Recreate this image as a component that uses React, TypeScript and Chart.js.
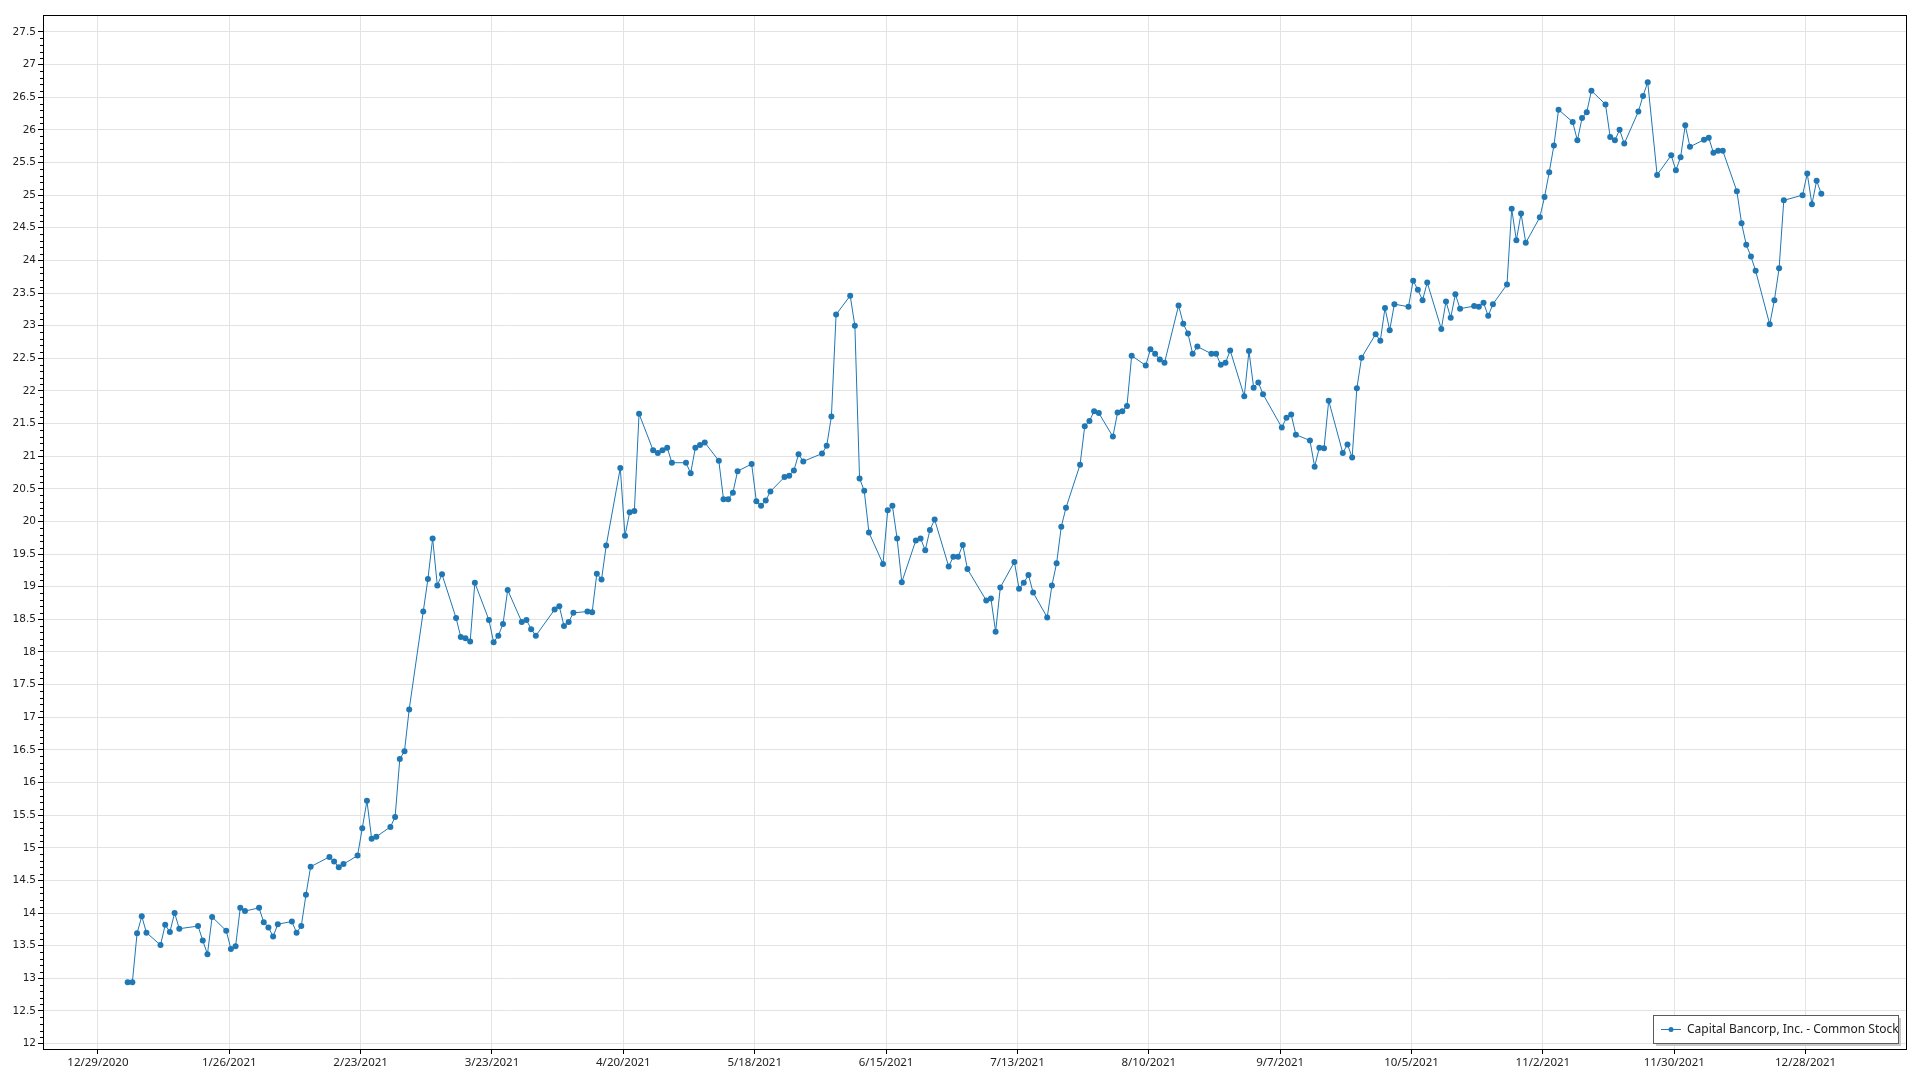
import React, { useEffect, useRef } from "react";
import { Chart, registerables } from "chart.js";

Chart.register(...registerables);

const SERIES_NAME = "Capital Bancorp, Inc. - Common Stock";

const tradeDates = [
  "2021-01-04","2021-01-05","2021-01-06","2021-01-07","2021-01-08",
  "2021-01-11","2021-01-12","2021-01-13","2021-01-14","2021-01-15",
  "2021-01-19","2021-01-20","2021-01-21","2021-01-22",
  "2021-01-25","2021-01-26","2021-01-27","2021-01-28","2021-01-29",
  "2021-02-01","2021-02-02","2021-02-03","2021-02-04","2021-02-05",
  "2021-02-08","2021-02-09","2021-02-10","2021-02-11","2021-02-12",
  "2021-02-16","2021-02-17","2021-02-18","2021-02-19",
  "2021-02-22","2021-02-23","2021-02-24","2021-02-25","2021-02-26",
  "2021-03-01","2021-03-02","2021-03-03","2021-03-04","2021-03-05",
  "2021-03-08","2021-03-09","2021-03-10","2021-03-11","2021-03-12",
  "2021-03-15","2021-03-16","2021-03-17","2021-03-18","2021-03-19",
  "2021-03-22","2021-03-23","2021-03-24","2021-03-25","2021-03-26",
  "2021-03-29","2021-03-30","2021-03-31","2021-04-01",
  "2021-04-05","2021-04-06","2021-04-07","2021-04-08","2021-04-09",
  "2021-04-12","2021-04-13","2021-04-14","2021-04-15","2021-04-16",
  "2021-04-19","2021-04-20","2021-04-21","2021-04-22","2021-04-23",
  "2021-04-26","2021-04-27","2021-04-28","2021-04-29","2021-04-30",
  "2021-05-03","2021-05-04","2021-05-05","2021-05-06","2021-05-07",
  "2021-05-10","2021-05-11","2021-05-12","2021-05-13","2021-05-14",
  "2021-05-17","2021-05-18","2021-05-19","2021-05-20","2021-05-21",
  "2021-05-24","2021-05-25","2021-05-26","2021-05-27","2021-05-28",
  "2021-06-01","2021-06-02","2021-06-03","2021-06-04",
  "2021-06-07","2021-06-08","2021-06-09","2021-06-10","2021-06-11",
  "2021-06-14","2021-06-15","2021-06-16","2021-06-17","2021-06-18",
  "2021-06-21","2021-06-22","2021-06-23","2021-06-24","2021-06-25",
  "2021-06-28","2021-06-29","2021-06-30","2021-07-01","2021-07-02",
  "2021-07-06","2021-07-07","2021-07-08","2021-07-09",
  "2021-07-12","2021-07-13","2021-07-14","2021-07-15","2021-07-16",
  "2021-07-19","2021-07-20","2021-07-21","2021-07-22","2021-07-23",
  "2021-07-26","2021-07-27","2021-07-28","2021-07-29","2021-07-30",
  "2021-08-02","2021-08-03","2021-08-04","2021-08-05","2021-08-06",
  "2021-08-09","2021-08-10","2021-08-11","2021-08-12","2021-08-13",
  "2021-08-16","2021-08-17","2021-08-18","2021-08-19","2021-08-20",
  "2021-08-23","2021-08-24","2021-08-25","2021-08-26","2021-08-27",
  "2021-08-30","2021-08-31","2021-09-01","2021-09-02","2021-09-03",
  "2021-09-07","2021-09-08","2021-09-09","2021-09-10",
  "2021-09-13","2021-09-14","2021-09-15","2021-09-16","2021-09-17",
  "2021-09-20","2021-09-21","2021-09-22","2021-09-23","2021-09-24",
  "2021-09-27","2021-09-28","2021-09-29","2021-09-30","2021-10-01",
  "2021-10-04","2021-10-05","2021-10-06","2021-10-07","2021-10-08",
  "2021-10-11","2021-10-12","2021-10-13","2021-10-14","2021-10-15",
  "2021-10-18","2021-10-19","2021-10-20","2021-10-21","2021-10-22",
  "2021-10-25","2021-10-26","2021-10-27","2021-10-28","2021-10-29",
  "2021-11-01","2021-11-02","2021-11-03","2021-11-04","2021-11-05",
  "2021-11-08","2021-11-09","2021-11-10","2021-11-11","2021-11-12",
  "2021-11-15","2021-11-16","2021-11-17","2021-11-18","2021-11-19",
  "2021-11-22","2021-11-23","2021-11-24","2021-11-26",
  "2021-11-29","2021-11-30","2021-12-01","2021-12-02","2021-12-03",
  "2021-12-06","2021-12-07","2021-12-08","2021-12-09","2021-12-10",
  "2021-12-13","2021-12-14","2021-12-15","2021-12-16","2021-12-17",
  "2021-12-20","2021-12-21","2021-12-22","2021-12-23",
  "2021-12-27","2021-12-28","2021-12-29","2021-12-30","2021-12-31",
];

const closePrices = [
  12.94, 12.94, 13.69, 13.95, 13.70,
  13.51, 13.82, 13.71, 14.00, 13.76,
  13.80, 13.58, 13.37, 13.94,
  13.73, 13.45, 13.49, 14.08, 14.03,
  14.08, 13.86, 13.78, 13.64, 13.83,
  13.87, 13.70, 13.80, 14.28, 14.71,
  14.86, 14.79, 14.70, 14.75,
  14.88, 15.30, 15.72, 15.14, 15.17,
  15.32, 15.47, 16.36, 16.48, 17.12,
  18.62, 19.12, 19.74, 19.02, 19.19,
  18.52, 18.23, 18.21, 18.16, 19.06,
  18.49, 18.15, 18.25, 18.43, 18.95,
  18.46, 18.49, 18.35, 18.25,
  18.65, 18.70, 18.40, 18.46, 18.60,
  18.62, 18.61, 19.20, 19.11, 19.63,
  20.82, 19.78, 20.14, 20.16, 21.65,
  21.09, 21.05, 21.09, 21.13, 20.90,
  20.90, 20.74, 21.13, 21.17, 21.21,
  20.93, 20.34, 20.34, 20.44, 20.77,
  20.88, 20.31, 20.24, 20.32, 20.46,
  20.68, 20.70, 20.78, 21.03, 20.92,
  21.04, 21.16, 21.61, 23.17,
  23.46, 23.00, 20.66, 20.47, 19.83,
  19.35, 20.17, 20.24, 19.74, 19.07,
  19.71, 19.74, 19.56, 19.87, 20.03,
  19.31, 19.46, 19.46, 19.64, 19.27,
  18.79, 18.82, 18.31, 18.99,
  19.38, 18.97, 19.06, 19.18, 18.91,
  18.53, 19.02, 19.36, 19.92, 20.21,
  20.87, 21.46, 21.54, 21.69, 21.66,
  21.30, 21.67, 21.69, 21.77, 22.54,
  22.39, 22.64, 22.57, 22.48, 22.43,
  23.31, 23.03, 22.88, 22.57, 22.68,
  22.57, 22.57, 22.40, 22.43, 22.62,
  21.92, 22.61, 22.05, 22.13, 21.95,
  21.44, 21.59, 21.64, 21.33,
  21.24, 20.84, 21.13, 21.12, 21.85,
  21.05, 21.18, 20.98, 22.04, 22.51,
  22.87, 22.77, 23.27, 22.93, 23.33,
  23.29, 23.69, 23.55, 23.39, 23.66,
  22.95, 23.37, 23.12, 23.48, 23.26,
  23.30, 23.29, 23.35, 23.15, 23.33,
  23.63, 24.79, 24.31, 24.72, 24.27,
  24.66, 24.97, 25.35, 25.76, 26.31,
  26.12, 25.84, 26.18, 26.27, 26.60,
  26.39, 25.89, 25.84, 26.00, 25.79,
  26.28, 26.52, 26.73, 25.31,
  25.61, 25.38, 25.58, 26.07, 25.74,
  25.85, 25.88, 25.65, 25.68, 25.68,
  25.06, 24.57, 24.24, 24.06, 23.84,
  23.02, 23.39, 23.88, 24.92,
  25.00, 25.33, 24.86, 25.22, 25.02,
];

const xTickLabels = [
  "12/29/2020", "1/26/2021", "2/23/2021", "3/23/2021", "4/20/2021",
  "5/18/2021", "6/15/2021", "7/13/2021", "8/10/2021", "9/7/2021",
  "10/5/2021", "11/2/2021", "11/30/2021", "12/28/2021",
];

const yTickLabels = [
  "12", "12.5", "13", "13.5", "14", "14.5", "15", "15.5", "16", "16.5",
  "17", "17.5", "18", "18.5", "19", "19.5", "20", "20.5", "21", "21.5",
  "22", "22.5", "23", "23.5", "24", "24.5", "25", "25.5", "26", "26.5",
  "27", "27.5",
];

const BASE_UTC = Date.UTC(2020, 11, 29);
const DAY_MS = 86400000;

// day offset from the first axis tick; trade points are placed within the day
function isoToDay(iso: string): number {
  const [y, m, d] = iso.split("-").map(Number);
  return (Date.UTC(y, m - 1, d) - BASE_UTC) / DAY_MS + 0.35;
}
function labelToDay(lbl: string): number {
  const [m, d, y] = lbl.split("/").map(Number);
  return (Date.UTC(y, m - 1, d) - BASE_UTC) / DAY_MS;
}

const LINE_COLOR = "#1f77b4";

const framePlugin = {
  id: "frameAndLegend",
  afterDraw(chart: any) {
    const { ctx, chartArea } = chart;
    const ys = chart.scales.y;
    ctx.save();
    // minor ticks on y axis
    ctx.strokeStyle = "#000";
    ctx.lineWidth = 1;
    const yMinV = Number(yTickLabels[0]);
    const yMaxV = Number(yTickLabels[yTickLabels.length - 1]);
    for (let k = Math.round(yMinV * 10); k <= Math.round(yMaxV * 10); k++) {
      if (k % 5 === 0) continue;
      const py = Math.round(ys.getPixelForValue(k / 10)) + 0.5;
      ctx.beginPath();
      ctx.moveTo(chartArea.left - 3, py);
      ctx.lineTo(chartArea.left, py);
      ctx.stroke();
    }
    // frame
    ctx.strokeStyle = "#000";
    ctx.lineWidth = 1;
    ctx.strokeRect(
      Math.round(chartArea.left) + 0.5,
      Math.round(chartArea.top) + 0.5,
      Math.round(chartArea.right - chartArea.left),
      Math.round(chartArea.bottom - chartArea.top)
    );
    // legend box
    const w = 245;
    const h = 28;
    const x0 = Math.round(chartArea.right - 253);
    const y0 = Math.round(chartArea.bottom - 34);
    ctx.fillStyle = "#c8c8c8";
    ctx.fillRect(x0 + 3, y0 + 3, w, h);
    ctx.fillStyle = "#ffffff";
    ctx.fillRect(x0, y0, w, h);
    ctx.strokeStyle = "#5a5a5a";
    ctx.strokeRect(x0 + 0.5, y0 + 0.5, w, h);
    const cy = y0 + h / 2 + 0.5;
    ctx.strokeStyle = LINE_COLOR;
    ctx.beginPath();
    ctx.moveTo(x0 + 8, cy);
    ctx.lineTo(x0 + 28, cy);
    ctx.stroke();
    ctx.fillStyle = LINE_COLOR;
    ctx.beginPath();
    ctx.arc(x0 + 18, cy, 2.5, 0, Math.PI * 2);
    ctx.fill();
    ctx.fillStyle = "#222";
    ctx.font = "12px 'Noto Sans'";
    ctx.textBaseline = "middle";
    ctx.textAlign = "left";
    ctx.fillText(SERIES_NAME, x0 + 34, cy);
    ctx.restore();
  },
};

export default function App() {
  const canvasRef = useRef<HTMLCanvasElement | null>(null);

  useEffect(() => {
    const canvas = canvasRef.current;
    if (!canvas) return;
    const points = tradeDates.map((d, i) => ({ x: isoToDay(d), y: closePrices[i] }));
    const first = points[0].x;
    const last = points[points.length - 1].x;
    const pad = (last - first) * 0.05;
    const xTickDays = xTickLabels.map(labelToDay);
    const yTickVals = yTickLabels.map(Number);

    const chart = new Chart(canvas, {
      type: "line",
      data: {
        datasets: [
          {
            label: SERIES_NAME,
            data: points,
            borderColor: LINE_COLOR,
            backgroundColor: LINE_COLOR,
            borderWidth: 1,
            pointRadius: 3,
            pointBorderWidth: 0,
            pointBackgroundColor: LINE_COLOR,
            tension: 0,
          },
        ],
      },
      options: {
        animation: false,
        responsive: false,
        devicePixelRatio: 1,
        layout: { padding: { left: 0, top: 15, right: 14, bottom: 0 } },
        plugins: {
          legend: { display: false },
          tooltip: { enabled: false },
        },
        scales: {
          x: {
            type: "linear",
            min: first - pad,
            max: last + pad,
            afterBuildTicks: (scale: any) => {
              scale.ticks = xTickDays.map((v) => ({ value: v }));
            },
            afterFit: (scale: any) => {
              scale.height = 31;
            },
            ticks: {
              autoSkip: false,
              maxRotation: 0,
              padding: 2,
              color: "#222",
              font: { family: "'Noto Sans'", size: 11.5 },
              callback: (_v: any, i: number) => xTickLabels[i],
            },
            grid: {
              color: "#e3e3e3",
              tickColor: "#000",
              tickLength: 5,
            },
            border: { color: "#000" },
          },
          y: {
            type: "linear",
            min: 11.917,
            max: 27.76,
            afterBuildTicks: (scale: any) => {
              scale.ticks = yTickVals.map((v) => ({ value: v }));
            },
            afterFit: (scale: any) => {
              scale.width = 43;
            },
            ticks: {
              autoSkip: false,
              padding: 2,
              color: "#222",
              font: { family: "'DejaVu Sans'", size: 10.5 },
              callback: (_v: any, i: number) => yTickLabels[i],
            },
            grid: {
              color: "#e3e3e3",
              tickColor: "#000",
              tickLength: 5,
            },
            border: { color: "#000" },
          },
        },
      },
      plugins: [framePlugin],
    });
    return () => chart.destroy();
  }, []);

  return (
    <div style={{ position: "absolute", left: 0, top: 0, width: 1920, height: 1080, background: "#fff" }}>
      <canvas ref={canvasRef} width={1920} height={1080} style={{ display: "block" }} />
    </div>
  );
}
